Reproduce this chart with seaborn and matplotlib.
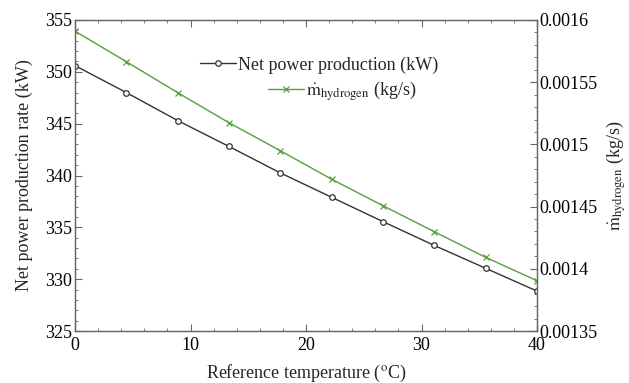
import matplotlib
matplotlib.use("Agg")
import matplotlib.pyplot as plt
import seaborn as sns
import pandas as pd
from matplotlib.ticker import MultipleLocator

# Data
temperature = [0.0, 4.444, 8.889, 13.333, 17.778, 22.222, 26.667, 31.111, 35.556, 40.0]
net_power = [350.6, 348.0, 345.3, 342.8, 340.25, 337.9, 335.55, 333.25, 331.05, 328.85]
m_hydrogen = [0.001591, 0.0015665, 0.0015416, 0.0015174, 0.0014949,
              0.001472, 0.0014507, 0.0014298, 0.0014092, 0.0013904]

df = pd.DataFrame({"T": temperature, "P": net_power, "m": m_hydrogen})

sns.set_style("ticks")
plt.rcParams["font.family"] = ["Liberation Serif", "DejaVu Serif"]
plt.rcParams["mathtext.fontset"] = "stix"
FS = 13

fig = plt.figure(figsize=(6.29, 3.83), dpi=100)
ax = fig.add_axes([75/629, 1-331/383, (537-75)/629, (331-20)/383])
ax2 = ax.twinx()

black = "#333333"
green = "#55a03c"
sns.lineplot(data=df, x="T", y="P", ax=ax, color=black, lw=1.0, marker="o",
             markersize=4, markerfacecolor="white", markeredgecolor=black,
             markeredgewidth=0.9, label="Net power production (kW)", legend=False)
sns.lineplot(data=df, x="T", y="m", ax=ax2, color=green, lw=1.0, marker="x",
             markersize=5, markeredgecolor=green, markeredgewidth=0.9,
             label=r"$\dot{\mathrm{m}}_{\mathrm{hydrogen}}$ (kg/s)", legend=False)

ax.set_xlim(0, 40)
ax.set_ylim(325, 355)
ax2.set_ylim(0.00135, 0.0016)

ax.xaxis.set_major_locator(MultipleLocator(10))
ax.xaxis.set_minor_locator(MultipleLocator(2))
ax.yaxis.set_major_locator(MultipleLocator(5))
ax.yaxis.set_minor_locator(MultipleLocator(1))
ax2.yaxis.set_major_locator(MultipleLocator(0.00005))
ax2.yaxis.set_minor_locator(MultipleLocator(0.00001))
ax2.yaxis.set_major_formatter(matplotlib.ticker.FuncFormatter(lambda v, p: f"{v:.5f}".rstrip("0")))

spine_c = "#666666"
for a in (ax, ax2):
    for s in a.spines.values():
        s.set_color(spine_c)
        s.set_linewidth(0.9)

ax.tick_params(axis="both", which="both", direction="in", colors=spine_c,
               labelcolor="black", labelsize=FS, top=True, right=False)
ax.tick_params(axis="y", which="major", length=5, pad=2)
ax.tick_params(axis="y", which="minor", length=2.5)
ax.tick_params(axis="x", which="major", length=5, pad=4)
ax.tick_params(axis="x", which="minor", length=2.5)
ax2.tick_params(axis="y", which="both", direction="in", colors=spine_c,
                labelcolor="black", labelsize=FS, pad=2)
ax2.tick_params(axis="y", which="major", length=5)
ax2.tick_params(axis="y", which="minor", length=2.5)

ax.set_xlabel("Reference temperature ($^{\\mathrm{o}}$C)", fontsize=FS, labelpad=7)
ax.set_ylabel("Net power production rate (kW)", fontsize=FS, labelpad=9)
ax2.set_ylabel(r"$\dot{\mathrm{m}}_{\mathrm{hydrogen}}$ (kg/s)", fontsize=FS, labelpad=5)

h1, l1 = ax.get_legend_handles_labels()
h2, l2 = ax2.get_legend_handles_labels()
fig.legend(h1, l1, loc="center left", bbox_to_anchor=(200/629, 1-65/383),
           frameon=False, fontsize=FS, borderpad=0, borderaxespad=0,
           handlelength=2.0, handletextpad=0.1)
fig.legend(h2, l2, loc="center left", bbox_to_anchor=(268/629, 1-91/383),
           frameon=False, fontsize=FS, borderpad=0, borderaxespad=0,
           handlelength=2.0, handletextpad=0.1)

fig.savefig("out.png", dpi=100)
